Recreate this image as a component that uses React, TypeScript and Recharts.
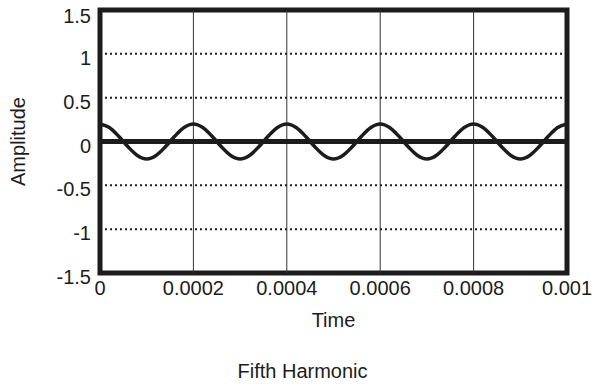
import { LineChart, Line, XAxis, YAxis, ReferenceLine, ReferenceArea, Label } from "recharts";

const timeSteps = [
  0, 0.00002, 0.00004, 0.00006, 0.00008, 0.0001, 0.00012, 0.00014, 0.00016, 0.00018,
  0.0002, 0.00022, 0.00024, 0.00026, 0.00028, 0.0003, 0.00032, 0.00034, 0.00036, 0.00038,
  0.0004, 0.00042, 0.00044, 0.00046, 0.00048, 0.0005, 0.00052, 0.00054, 0.00056, 0.00058,
  0.0006, 0.00062, 0.00064, 0.00066, 0.00068, 0.0007, 0.00072, 0.00074, 0.00076, 0.00078,
  0.0008, 0.00082, 0.00084, 0.00086, 0.00088, 0.0009, 0.00092, 0.00094, 0.00096, 0.00098,
  0.001,
];

const amplitude = [
  0.2, 0.16, 0.06, -0.06, -0.16, -0.2, -0.16, -0.06, 0.06, 0.16,
  0.2, 0.16, 0.06, -0.06, -0.16, -0.2, -0.16, -0.06, 0.06, 0.16,
  0.2, 0.16, 0.06, -0.06, -0.16, -0.2, -0.16, -0.06, 0.06, 0.16,
  0.2, 0.16, 0.06, -0.06, -0.16, -0.2, -0.16, -0.06, 0.06, 0.16,
  0.2, 0.16, 0.06, -0.06, -0.16, -0.2, -0.16, -0.06, 0.06, 0.16,
  0.2,
];

const xTicks = [0, 0.0002, 0.0004, 0.0006, 0.0008, 0.001];
const xTickLabels = ["0", "0.0002", "0.0004", "0.0006", "0.0008", "0.001"];
const yTicks = [-1.5, -1, -0.5, 0, 0.5, 1, 1.5];
const dottedLevels = [-1, -0.5, 0.5, 1];
const verticalGrid = [0.0002, 0.0004, 0.0006, 0.0008];

const data = timeSteps.map((t, i) => ({ t, amp: amplitude[i] }));

const ink = "#1c1c1c";
const font = "'Liberation Sans', Arial, Helvetica, sans-serif";

export default function App() {
  return (
    <div style={{ position: "absolute", left: 0, top: 0, width: 605, height: 387, background: "#fff" }}>
      <LineChart width={605} height={387} data={data} margin={{ top: 10, right: 38, bottom: 84, left: 40 }}>
        <XAxis
          dataKey="t"
          type="number"
          domain={[0, 0.001]}
          ticks={xTicks}
          tickFormatter={(v: number) => xTickLabels[xTicks.indexOf(v)] ?? String(v)}
          axisLine={false}
          tickLine={false}
          tickSize={0}
          tickMargin={8}
          height={30}
          tick={{ fill: ink, fontSize: 20, fontFamily: font }}
        >
          <Label value="Time" position="insideBottom" offset={-24} fill={ink} fontSize={20} fontFamily={font} />
        </XAxis>
        <YAxis
          type="number"
          domain={[-1.5, 1.5]}
          ticks={yTicks}
          allowDataOverflow
          axisLine={false}
          tickLine={false}
          tickSize={0}
          tickMargin={9}
          width={60}
          tick={{ fill: ink, fontSize: 20, fontFamily: font, dy: 4 }}
        >
          <Label
            value="Amplitude"
            angle={-90}
            position="insideLeft"
            offset={-22}
            style={{ textAnchor: "middle" }}
            fill={ink}
            fontSize={20}
            fontFamily={font}
          />
        </YAxis>
        {verticalGrid.map((x) => (
          <ReferenceLine key={`v${x}`} x={x} stroke="#333" strokeWidth={1} />
        ))}
        {dottedLevels.map((y) => (
          <ReferenceLine key={`h${y}`} y={y} stroke={ink} strokeWidth={2} strokeDasharray="2 3" />
        ))}
        <ReferenceLine y={0} stroke={ink} strokeWidth={5} />
        <Line
          type="monotone"
          dataKey="amp"
          stroke={ink}
          strokeWidth={3.5}
          dot={false}
          isAnimationActive={false}
        />
        <ReferenceArea
          x1={0}
          x2={0.001}
          y1={-1.5}
          y2={1.5}
          fill="none"
          fillOpacity={0}
          stroke={ink}
          strokeWidth={5}
        />
      </LineChart>
      <div
        style={{
          position: "absolute",
          left: 0,
          width: 605,
          top: 360,
          textAlign: "center",
          fontFamily: font,
          fontSize: 20,
          color: ink,
        }}
      >
        Fifth Harmonic
      </div>
    </div>
  );
}
